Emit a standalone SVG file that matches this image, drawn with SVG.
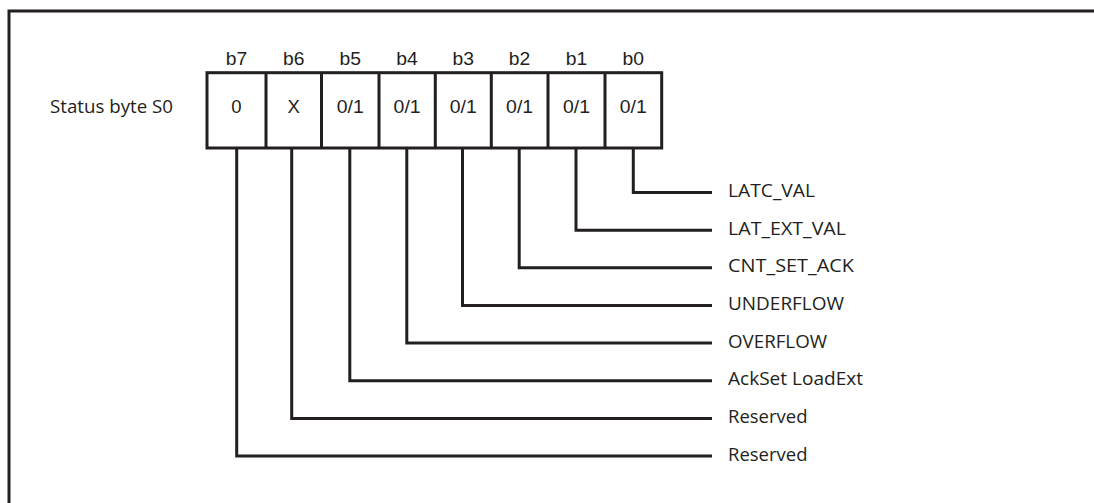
<svg xmlns="http://www.w3.org/2000/svg" width="1094" height="503" viewBox="0 0 1094 503">
<style>
.ln{fill:none;stroke:#231f20;stroke-width:3;stroke-linejoin:miter;stroke-linecap:butt}
.bit{font-family:"Liberation Sans",Arial,sans-serif;font-size:18.5px;fill:#231f20;text-anchor:middle}
.lbl{font-family:"Open Sans","Liberation Sans",sans-serif;font-size:17.5px;fill:#231f20}
</style>
<rect width="1094" height="503" fill="#fff"/>
<path class="ln" d="M9,503 V11 H1094"/>
<g id="title"><text class="lbl" x="50" y="112.5" font-size="18" textLength="123" lengthAdjust="spacingAndGlyphs">Status byte S0</text></g>
<g id="bitnames">
<text class="bit" x="236.5" y="65" textLength="21.5" lengthAdjust="spacingAndGlyphs">b7</text>
<text class="bit" x="293.7" y="65" textLength="21.5" lengthAdjust="spacingAndGlyphs">b6</text>
<text class="bit" x="350.2" y="65" textLength="21.5" lengthAdjust="spacingAndGlyphs">b5</text>
<text class="bit" x="407.1" y="65" textLength="21.5" lengthAdjust="spacingAndGlyphs">b4</text>
<text class="bit" x="463.3" y="65" textLength="21.5" lengthAdjust="spacingAndGlyphs">b3</text>
<text class="bit" x="519.6" y="65" textLength="21.5" lengthAdjust="spacingAndGlyphs">b2</text>
<text class="bit" x="576.5" y="65" textLength="21.5" lengthAdjust="spacingAndGlyphs">b1</text>
<text class="bit" x="633.3" y="65" textLength="21.5" lengthAdjust="spacingAndGlyphs">b0</text>
</g>
<g id="register">
<rect class="ln" x="207" y="72.7" width="454.7" height="75.3"/>
<path class="ln" d="M266,72.7V148 M321.5,72.7V148 M379,72.7V148 M435.3,72.7V148 M491.3,72.7V148 M548,72.7V148 M605,72.7V148"/>
<text class="bit" x="236.5" y="112.5">0</text>
<text class="bit" x="293.7" y="112.5">X</text>
<text class="bit" x="350.2" y="112.5" textLength="27" lengthAdjust="spacingAndGlyphs">0/1</text>
<text class="bit" x="407.1" y="112.5" textLength="27" lengthAdjust="spacingAndGlyphs">0/1</text>
<text class="bit" x="463.3" y="112.5" textLength="27" lengthAdjust="spacingAndGlyphs">0/1</text>
<text class="bit" x="519.6" y="112.5" textLength="27" lengthAdjust="spacingAndGlyphs">0/1</text>
<text class="bit" x="576.5" y="112.5" textLength="27" lengthAdjust="spacingAndGlyphs">0/1</text>
<text class="bit" x="633.3" y="112.5" textLength="27" lengthAdjust="spacingAndGlyphs">0/1</text>
</g>
<g id="connectors">
<path class="ln" d="M633.3,148 V192.5 H712"/>
<path class="ln" d="M576,148 V230.2 H712"/>
<path class="ln" d="M519.2,148 V267.8 H712"/>
<path class="ln" d="M462.5,148 V305.4 H712"/>
<path class="ln" d="M406.8,148 V343.1 H712"/>
<path class="ln" d="M349.8,148 V380.7 H712"/>
<path class="ln" d="M291.7,148 V418.4 H712"/>
<path class="ln" d="M236.7,148 V456 H712"/>
</g>
<g id="labels">
<text class="lbl" x="728" y="197" textLength="87" lengthAdjust="spacingAndGlyphs">LATC_VAL</text>
<text class="lbl" x="728" y="234.7" textLength="118" lengthAdjust="spacingAndGlyphs">LAT_EXT_VAL</text>
<text class="lbl" x="728" y="272.3" textLength="126" lengthAdjust="spacingAndGlyphs">CNT_SET_ACK</text>
<text class="lbl" x="728" y="309.9" textLength="116" lengthAdjust="spacingAndGlyphs">UNDERFLOW</text>
<text class="lbl" x="728" y="347.5" textLength="99" lengthAdjust="spacingAndGlyphs">OVERFLOW</text>
<text class="lbl" x="728" y="385.2" textLength="135" lengthAdjust="spacingAndGlyphs">AckSet LoadExt</text>
<text class="lbl" x="728" y="422.9" textLength="79.5" lengthAdjust="spacingAndGlyphs">Reserved</text>
<text class="lbl" x="728" y="460.5" textLength="79.5" lengthAdjust="spacingAndGlyphs">Reserved</text>
</g>
</svg>
